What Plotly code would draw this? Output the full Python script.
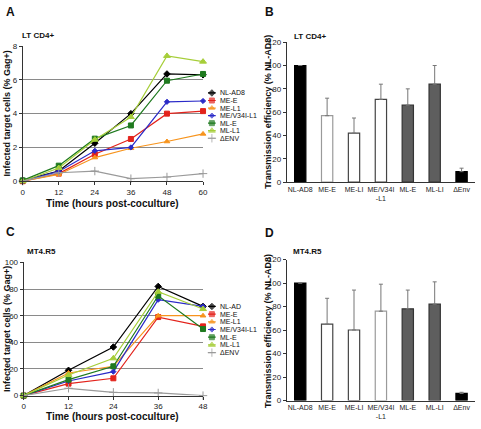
import plotly.graph_objects as go

W, H = 481, 429
FONT = "Liberation Sans Narrow, Arial Narrow, Liberation Sans, Arial, sans-serif"
BOLD = "Liberation Sans, Arial, sans-serif"

# ---------------- data ----------------
series = ["NL-AD8", "ME-E", "ME-L1", "ME/V34I-L1", "ML-E", "ML-L1", "ΔENV"]
legend_C = ["NL-AD", "ME-E", "ME-L1", "ME/V34I-L1", "ML-E", "ML-L1", "ΔENV"]

time_A = [0, 12, 24, 36, 48, 60]
A_nlad8 = [0.05, 0.6, 2.25, 4.0, 6.35, 6.3]
A_mee = [0.0, 0.45, 1.6, 2.5, 4.0, 4.15]
A_mel1 = [0.0, 0.4, 1.4, 1.95, 2.35, 2.8]
A_mev34 = [0.0, 0.58, 1.8, 2.0, 4.7, 4.75]
A_mle = [0.05, 0.92, 2.52, 3.3, 5.95, 6.35]
A_mll1 = [0.0, 0.78, 2.46, 3.8, 7.42, 7.08]
A_denv = [0.0, 0.5, 0.6, 0.15, 0.25, 0.45]

time_C = [0, 12, 24, 36, 48]
C_nlad8 = [0, 19, 36.5, 82, 67]
C_mee = [0, 9, 13, 59, 52]
C_mel1 = [0, 17, 22, 60, 60]
C_mev34 = [0, 11, 18, 72, 67]
C_mle = [0, 12, 22, 75, 50]
C_mll1 = [0, 15.5, 28, 78, 65]
C_denv = [0, 5.5, 2.5, 2, 0]

bar_cats = ["NL-AD8", "ME-E", "ME-LI", "ME/V34I<br>-L1", "ML-E", "ML-LI", "ΔEnv"]
B_vals = [100, 57, 42, 71, 66, 84, 9]
B_err = [0, 15, 13, 13, 14, 16, 3]
D_vals = [100, 65, 60, 76, 78, 82, 6]
D_err = [0, 22, 34, 23, 16, 19, 1]

# ---------------- styles ----------------
colors = ["#000000", "#e3231c", "#f7941d", "#2a2ac8", "#1f7a1f", "#a6ce39", "#9a9a9a"]
symbols = ["diamond", "square", "triangle-up", "diamond", "square", "triangle-up", "cross-thin"]
msizes = [5, 5, 5, 4, 5, 6, 6]
bar_fill = ["#000000", "#ffffff", "#ffffff", "#ffffff", "#5e5e5e", "#5e5e5e", "#000000"]
B_outline = ["#000000", "#9a9a9a", "#444444", "#444444", "#333333", "#333333", "#000000"]
D_outline = ["#000000", "#444444", "#444444", "#9a9a9a", "#333333", "#333333", "#000000"]


def px_x(a, b):
    return [a / W, b / W]


def px_y(top, bottom):
    return [1 - bottom / H, 1 - top / H]


fig = go.Figure()

A_data = [A_nlad8, A_mee, A_mel1, A_mev34, A_mle, A_mll1, A_denv]
C_data = [C_nlad8, C_mee, C_mel1, C_mev34, C_mle, C_mll1, C_denv]

for i, name in enumerate(series):
    mk = dict(symbol=symbols[i], size=msizes[i], color=colors[i],
              line=dict(color=colors[i], width=1))
    fig.add_trace(go.Scatter(x=time_A, y=A_data[i], mode="lines+markers", name=name,
                             line=dict(color=colors[i], width=1.2), marker=mk,
                             xaxis="x", yaxis="y", showlegend=False, cliponaxis=False))
    fig.add_trace(go.Scatter(x=time_C, y=C_data[i], mode="lines+markers", name=name,
                             line=dict(color=colors[i], width=1.2), marker=mk,
                             xaxis="x3", yaxis="y3", showlegend=False, cliponaxis=False))
    # legend keys (A in x5/y5, C in x6/y6), position = series index
    for ax, ay in (("x5", "y5"), ("x6", "y6")):
        fig.add_trace(go.Scatter(x=[0, 0.5, 1], y=[i, i, i], mode="lines+markers",
                                 line=dict(color=colors[i], width=1.2),
                                 marker=dict(symbol=symbols[i], size=[0, msizes[i], 0],
                                             color=colors[i], line=dict(color=colors[i], width=1)),
                                 xaxis=ax, yaxis=ay, showlegend=False, cliponaxis=False,
                                 hoverinfo="skip"))

for vals, err, outl, ax, ay in ((B_vals, B_err, B_outline, "x2", "y2"),
                                (D_vals, D_err, D_outline, "x4", "y4")):
    fig.add_trace(go.Bar(x=bar_cats, y=vals, width=0.42, xaxis=ax, yaxis=ay,
                         marker=dict(color=bar_fill, line=dict(color=outl, width=1.2)),
                         error_y=dict(type="data", array=err, arrayminus=[0] * len(err),
                                      symmetric=False, color="#777777", thickness=1, width=2),
                         showlegend=False))

tickfont = dict(family=FONT, size=8, color="#222")
common_line = dict(showline=True, linecolor="#333", linewidth=1, ticks="outside",
                   ticklen=3, tickcolor="#333", tickfont=tickfont, zeroline=False)
cat_axis = dict(range=[-0.5, 6.5], showgrid=False, showline=True, linecolor="#333",
                linewidth=1, ticks="", tickangle=0,
                tickfont=dict(family=FONT, size=7, color="#222"))

layout = dict(
    width=W, height=H, margin=dict(l=0, r=0, t=0, b=0),
    paper_bgcolor="white", plot_bgcolor="white", showlegend=False,
    font=dict(family=FONT, size=8, color="#222"),
    xaxis=dict(domain=px_x(21, 204), range=[0, 60], tickvals=time_A, showgrid=False,
               anchor="y", **common_line),
    yaxis=dict(domain=px_y(43, 181), range=[0, 8], dtick=2, showgrid=True,
               gridcolor="#8a8a8a", gridwidth=1, anchor="x", **common_line),
    xaxis3=dict(domain=px_x(22, 204), range=[0, 48], tickvals=time_C, showgrid=False,
                anchor="y3", **common_line),
    yaxis3=dict(domain=px_y(264, 400), range=[0, 100], dtick=20, showgrid=True,
                gridcolor="#8a8a8a", gridwidth=1, anchor="x3", **common_line),
    xaxis2=dict(domain=px_x(289, 480), anchor="y2", **cat_axis),
    yaxis2=dict(domain=px_y(39, 182), range=[0, 120], dtick=20, showgrid=False,
                anchor="x2", **common_line),
    xaxis4=dict(domain=px_x(289, 480), anchor="y4", **cat_axis),
    yaxis4=dict(domain=px_y(261, 405), range=[0, 120], dtick=20, showgrid=False,
                anchor="x4", **common_line),
    xaxis5=dict(domain=px_x(209, 217), range=[0, 1], visible=False, anchor="y5"),
    yaxis5=dict(domain=px_y(87, 141), range=[6.5, -0.5], visible=False, anchor="x5"),
    xaxis6=dict(domain=px_x(209, 217), range=[0, 1], visible=False, anchor="y6"),
    yaxis6=dict(domain=px_y(305, 360), range=[6.5, -0.5], visible=False, anchor="x6"),
)
fig.update_layout(**layout)

ann = []


def txt(text, x, y, size=9, bold=True, xanchor="left", yanchor="middle", angle=0,
        family=BOLD, xref="paper", yref="paper"):
    ann.append(dict(text=f"<b>{text}</b>" if bold else text, x=x, y=y, xref=xref, yref=yref,
                    showarrow=False, xanchor=xanchor, yanchor=yanchor, textangle=angle,
                    font=dict(family=family, size=size, color="#111")))


# legend labels
for i in range(len(series)):
    txt(series[i], 1, i, size=7, bold=False, family=FONT, xref="x5", yref="y5")
    ann[-1]["xshift"] = 2
    txt(legend_C[i], 1, i, size=7, bold=False, family=FONT, xref="x6", yref="y6")
    ann[-1]["xshift"] = 2

# panel letters
txt("A", 2 / W, 1 - 8 / H, size=12)
txt("B", 265 / W, 1 - 8 / H, size=12)
txt("C", 2 / W, 1 - 233 / H, size=12)
txt("D", 265 / W, 1 - 234 / H, size=12)
# panel subtitles
txt("LT CD4+", 18 / W, 1 - 32 / H, size=8)
txt("LT CD4+", 294 / W, 1 - 33 / H, size=8)
txt("MT4.R5", 23 / W, 1 - 253 / H, size=8, family=FONT)
txt("MT4.R5", 293 / W, 1 - 253 / H, size=8, family=FONT)
# axis titles
txt("Time (hours post-coculture)", 112 / W, 1 - 204 / H, size=10, xanchor="center", family=FONT)
txt("Time (hours post-coculture)", 112 / W, 1 - 421 / H, size=10, xanchor="center", family=FONT)
txt("Infected target cells (% Gag+)", 5 / W, 1 - 112 / H, size=9, xanchor="center", angle=-90)
txt("Infected target cells (% Gag+)", 5 / W, 1 - 332 / H, size=9, xanchor="center", angle=-90)
txt("Transmission efficiency (% NL-AD8)", 270 / W, 1 - 110 / H, size=9, xanchor="center", angle=-90)
txt("Transmission efficiency (% NL-AD8)", 270 / W, 1 - 334 / H, size=9, xanchor="center", angle=-90)

fig.update_layout(annotations=ann)
fig.write_html("out.html", config={"displayModeBar": False},
               post_script="document.body.style.margin='0';document.body.style.overflow='hidden';")
